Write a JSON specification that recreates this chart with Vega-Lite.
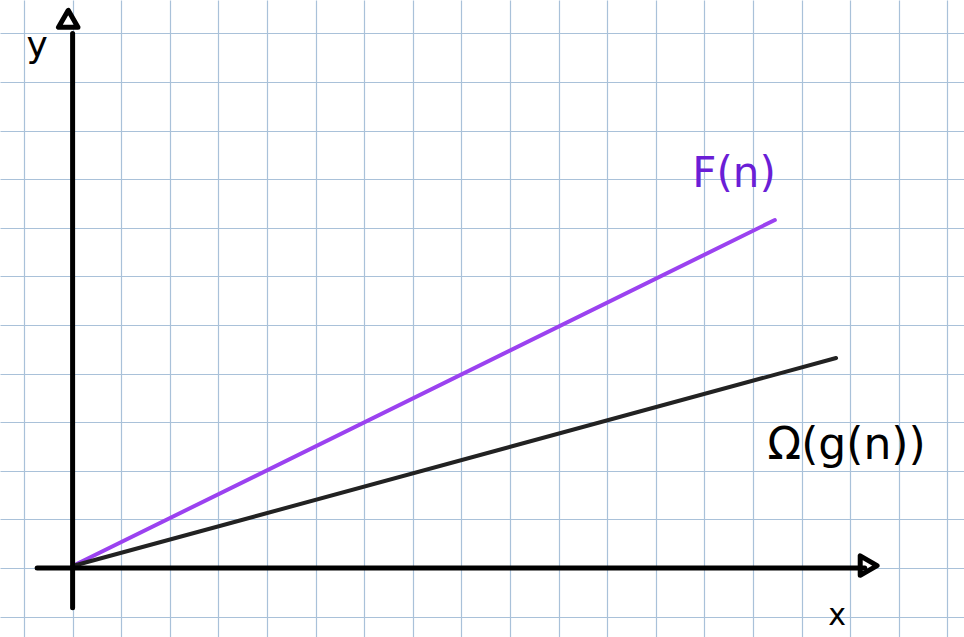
{
  "$schema": "https://vega.github.io/schema/vega-lite/v6.json",
  "width": 964,
  "height": 637,
  "autosize": {"type": "none"},
  "padding": 0,
  "background": "white",
  "config": {"view": {"stroke": null}},
  "datasets": {
    "curves": [
      {"series": "F", "x": 0, "y": 0.04},
      {"series": "F", "x": 14.45, "y": 7.16},
      {"series": "G", "x": 0, "y": 0.04},
      {"series": "G", "x": 15.71, "y": 4.32}
    ],
    "axesH": [{"x1": -0.73, "x2": 16.3, "y": 0}],
    "axesV": [{"x": 0, "y1": -0.82, "y2": 11.0}],
    "arrows": [
      {"x": -0.09, "y": 11.3, "shape": "triangle-up"},
      {"x": 16.38, "y": 0.05, "shape": "triangle-right"}
    ],
    "labels": [
      {"x": -0.95, "y": 10.75, "text": "y", "color": "black", "size": 36},
      {"x": 15.55, "y": -0.98, "text": "x", "color": "black", "size": 30},
      {"x": 12.75, "y": 8.1, "text": "F(n)", "color": "#6a1ed6", "size": 42},
      {"x": 14.3, "y": 2.5, "text": "Ω(g(n))", "color": "black", "size": 44}
    ]
  },
  "layer": [
    {
      "data": {"name": "curves"},
      "mark": {"type": "line", "strokeWidth": 4, "strokeCap": "round"},
      "encoding": {
        "x": {
          "field": "x", "type": "quantitative",
          "scale": {"domain": [-1.494, 18.342], "nice": false, "zero": false},
          "axis": {
            "title": null, "labels": false, "ticks": false, "domain": false,
            "grid": true, "gridColor": "#a9c1d9", "gridWidth": 1.2, "gridOpacity": 1,
            "values": [-1, 0, 1, 2, 3, 4, 5, 6, 7, 8, 9, 10, 11, 12, 13, 14, 15, 16, 17, 18]
          }
        },
        "y": {
          "field": "y", "type": "quantitative",
          "scale": {"domain": [-1.42, 11.687], "nice": false, "zero": false},
          "axis": {
            "title": null, "labels": false, "ticks": false, "domain": false,
            "grid": true, "gridColor": "#a9c1d9", "gridWidth": 1.2, "gridOpacity": 1,
            "values": [-1, 0, 1, 2, 3, 4, 5, 6, 7, 8, 9, 10, 11]
          }
        },
        "detail": {"field": "series"},
        "color": {
          "field": "series", "type": "nominal",
          "scale": {"domain": ["F", "G"], "range": ["#9b42f0", "#222222"]},
          "legend": null
        }
      }
    },
    {
      "data": {"name": "axesH"},
      "mark": {"type": "rule", "strokeWidth": 5, "color": "black", "strokeCap": "round"},
      "encoding": {
        "x": {"field": "x1", "type": "quantitative"},
        "x2": {"field": "x2"},
        "y": {"field": "y", "type": "quantitative"}
      }
    },
    {
      "data": {"name": "axesV"},
      "mark": {"type": "rule", "strokeWidth": 5, "color": "black", "strokeCap": "round"},
      "encoding": {
        "x": {"field": "x", "type": "quantitative"},
        "y": {"field": "y1", "type": "quantitative"},
        "y2": {"field": "y2"}
      }
    },
    {
      "data": {"name": "arrows"},
      "mark": {"type": "point", "filled": false, "strokeWidth": 5, "color": "black", "opacity": 1, "size": 380, "strokeJoin": "round"},
      "encoding": {
        "x": {"field": "x", "type": "quantitative"},
        "y": {"field": "y", "type": "quantitative"},
        "shape": {"field": "shape", "type": "nominal", "scale": null}
      }
    },
    {
      "data": {"name": "labels"},
      "mark": {"type": "text", "font": "DejaVu Sans", "align": "left", "baseline": "middle"},
      "encoding": {
        "x": {"field": "x", "type": "quantitative"},
        "y": {"field": "y", "type": "quantitative"},
        "text": {"field": "text"},
        "color": {"field": "color", "type": "nominal", "scale": null},
        "size": {"field": "size", "type": "quantitative", "scale": null}
      }
    }
  ]
}
